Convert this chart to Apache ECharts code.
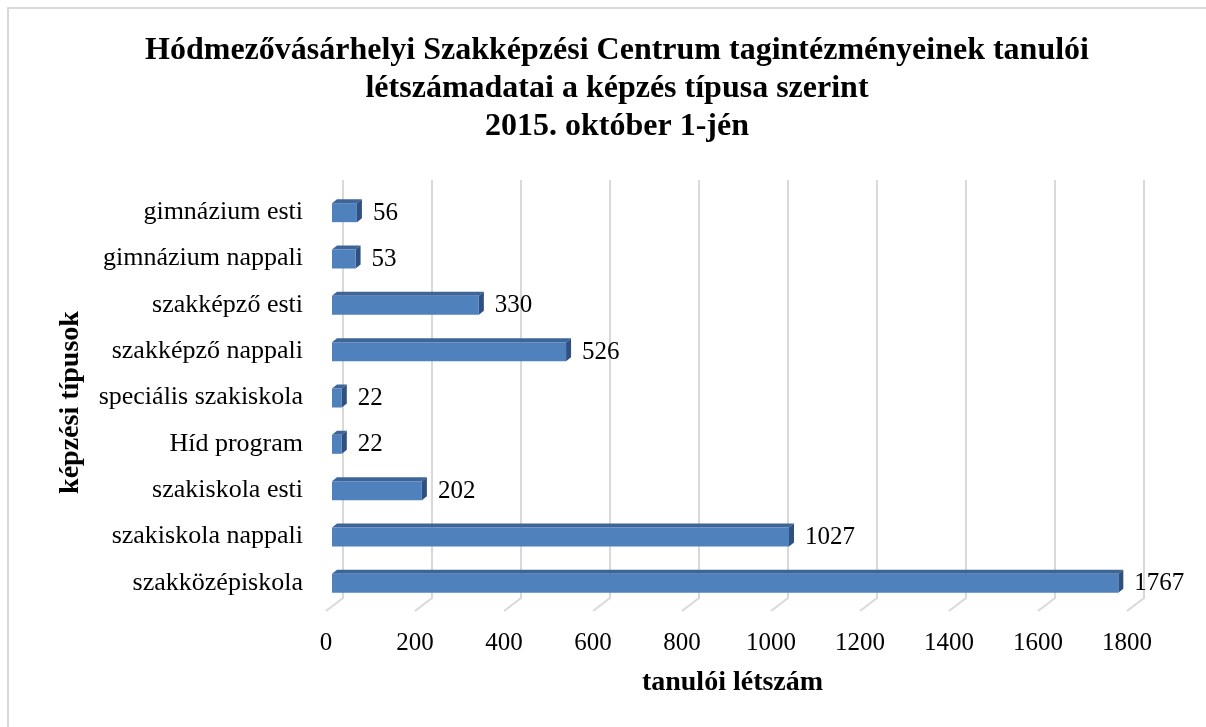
<!DOCTYPE html>
<html>
<head>
<meta charset="utf-8">
<script src="https://cdn.jsdelivr.net/npm/echarts@6/dist/echarts.min.js"></script>
<style>
  html, body { margin: 0; padding: 0; background: #fff; }
  #chart { width: 1206px; height: 727px; }
</style>
</head>
<body>
<div id="chart"></div>
<script>
var categories = ['szakközépiskola', 'szakiskola nappali', 'szakiskola esti', 'Híd program',
    'speciális szakiskola', 'szakképző nappali', 'szakképző esti', 'gimnázium nappali', 'gimnázium esti'];
var values = [1767, 1027, 202, 22, 22, 526, 330, 53, 56];
var ticks = [0, 200, 400, 600, 800, 1000, 1200, 1400, 1600, 1800];

var myChart = echarts.init(document.getElementById('chart'));
var serif = '"Liberation Serif", "Times New Roman", serif';

// fake 3d bar: front face + top face + right side
function renderBar(params, api) {
    var cat = api.value(1);
    var start = api.coord([0, cat]);
    var end = api.coord([api.value(0), cat]);
    var cy = start[1];
    var dx = 5, dy = 4;
    var y0 = cy - 9, y1 = cy + 10;
    return {
        type: 'group',
        children: [
            {
                type: 'polygon',
                shape: { points: [[start[0], y0], [start[0] + dx, y0 - dy], [end[0] + dx, y0 - dy], [end[0], y0]] },
                style: { fill: '#3d6597' }
            },
            {
                type: 'polygon',
                shape: { points: [[end[0], y0], [end[0] + dx, y0 - dy], [end[0] + dx, y1 - dy], [end[0], y1]] },
                style: { fill: '#2f5181' }
            },
            {
                type: 'rect',
                shape: { x: start[0], y: y0, width: end[0] - start[0], height: y1 - y0 },
                style: { fill: '#4f81bd' }
            },
            {
                type: 'text',
                style: {
                    text: String(api.value(0)), x: end[0] + 16, y: cy + 1,
                    fill: '#000', font: '25px ' + serif, verticalAlign: 'middle', align: 'left'
                }
            }
        ]
    };
}

// back wall gridlines bending forward onto the floor
function renderGrid(params, api) {
    var p = api.coord([api.value(0), 0]);
    var cs = params.coordSys;
    var x = p[0] + 11;
    var bottom = cs.y + cs.height - 8;
    return {
        type: 'polyline',
        shape: { points: [[x, cs.y - 9], [x, bottom], [x - 17, bottom + 13]] },
        style: { stroke: '#d9d9d9', lineWidth: 2, fill: null }
    };
}

myChart.setOption({
    backgroundColor: '#fff',
    animation: false,
    title: {
        text: 'Hódmezővásárhelyi Szakképzési Centrum tagintézményeinek tanulói\nlétszámadatai a képzés típusa szerint\n2015. október 1-jén',
        left: 612,
        textAlign: 'center',
        top: 27,
        textStyle: { fontFamily: serif, fontSize: 32, fontWeight: 'bold', color: '#000', lineHeight: 38 }
    },
    graphic: [{
        type: 'rect',
        shape: { x: 8, y: 8, width: 1220, height: 740 },
        style: { fill: null, stroke: '#d9d9d9', lineWidth: 2 },
        silent: true
    }],
    grid: { left: 332, right: 73, top: 189, bottom: 121 },
    xAxis: {
        type: 'value',
        min: 0,
        max: 1800,
        interval: 200,
        name: 'tanulói létszám',
        nameLocation: 'middle',
        nameGap: 63,
        nameTextStyle: { fontFamily: serif, fontSize: 28, fontWeight: 'bold', color: '#000' },
        axisLine: { show: false },
        axisTick: { show: false },
        splitLine: { show: false },
        axisLabel: {
            fontFamily: serif, fontSize: 25, color: '#000', margin: 25, padding: [0, 12, 0, 0],
            formatter: function (v) { return String(v); }
        }
    },
    yAxis: {
        type: 'category',
        data: categories,
        name: 'képzési típusok',
        nameLocation: 'middle',
        nameGap: 247,
        nameRotate: 90,
        nameTextStyle: { fontFamily: serif, fontSize: 28, fontWeight: 'bold', color: '#000', padding: [0, 10, 0, 0] },
        axisLine: { show: false },
        axisTick: { show: false },
        splitLine: { show: false },
        axisLabel: { fontFamily: serif, fontSize: 26, color: '#000', margin: 29 }
    },
    series: [
        {
            type: 'custom',
            name: 'grid',
            renderItem: renderGrid,
            data: ticks.map(function (t) { return [t]; }),
            encode: { x: 0 },
            silent: true,
            z: 1
        },
        {
            type: 'custom',
            name: 'tanulói létszám',
            renderItem: renderBar,
            data: values.map(function (v, i) { return [v, i]; }),
            encode: { x: 0, y: 1 },
            z: 2
        }
    ]
});

window.addEventListener('resize', function () {
    myChart.resize();
});
</script>
</body>
</html>
